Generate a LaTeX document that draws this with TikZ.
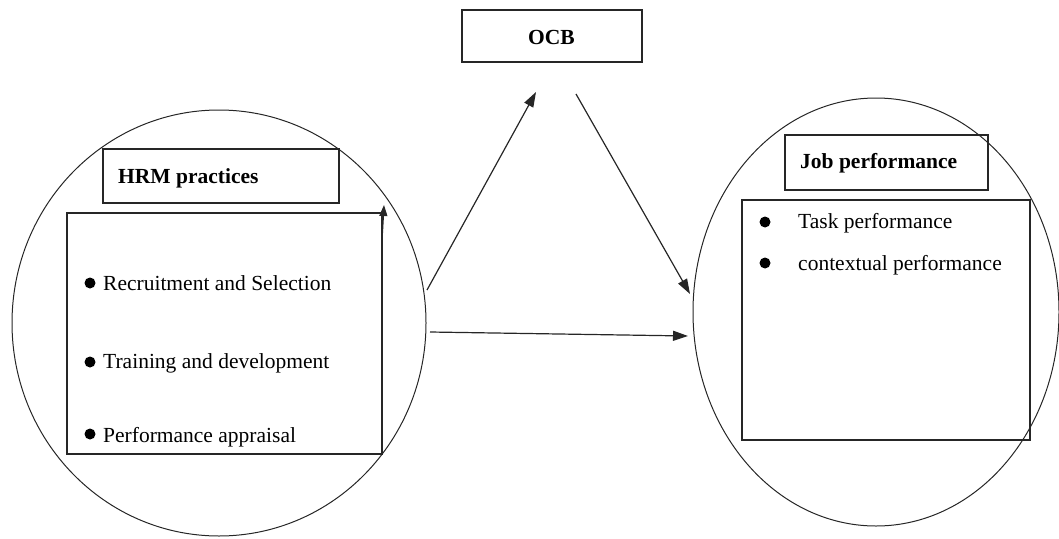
\documentclass[tikz,border=0pt]{standalone}
\usepackage{fontspec}
\setmainfont{Liberation Serif}
\usetikzlibrary{arrows.meta,shapes.geometric}
\begin{document}
\begin{tikzpicture}[x=1pt,y=-1pt,
  oval/.style={draw=black!85, ellipse, line width=1pt, inner sep=0pt},
  box/.style={draw=black!85, rectangle, line width=1.2pt, inner sep=0pt},
  dot/.style={circle, fill=black, inner sep=0pt, minimum size=11pt},
  txt/.style={anchor=base west, inner sep=0pt, font=\fontsize{21.5}{26}\selectfont},
  ttl/.style={anchor=base west, inner sep=0pt, font=\fontsize{21.5}{26}\selectfont\bfseries},
  arr/.style={draw=black!85, line width=1.2pt, -{Triangle[length=15pt,width=10pt]}}]
\useasboundingbox (0,0) rectangle (1059,538);
% ellipses
\node[oval, minimum width=414pt, minimum height=426pt] (L) at (219,323) {};
\node[oval, minimum width=366pt, minimum height=428pt] (R) at (876,312) {};
% boxes
\node[box, minimum width=236pt, minimum height=54pt] (hrm) at (221,176) {};
\node[box, minimum width=315pt, minimum height=241pt] (hrmlist) at (224.5,333.5) {};
\node[box, minimum width=180pt, minimum height=52pt] (ocb) at (552,36) {};
\node[box, minimum width=203pt, minimum height=55pt] (job) at (886.5,162.5) {};
\node[box, minimum width=288pt, minimum height=240pt] (joblist) at (886,320) {};
% titles
\node[ttl] (hrmt) at (118,183) {HRM practices};
\node[ttl] (ocbt) at (528,44) {OCB};
\node[ttl] (jobt) at (800,168) {Job performance};
% left list
\node[dot] (d1) at (90,283) {};
\node[txt] (t1) at (103,290) {Recruitment and Selection};
\node[dot] (d2) at (90,362) {};
\node[txt] (t2) at (103,368) {Training and development};
\node[dot] (d3) at (90,434) {};
\node[txt] (t3) at (103,442) {Performance appraisal};
% right list
\node[dot] (d4) at (765,222) {};
\node[txt] (t4) at (798,228) {Task performance};
\node[dot] (d5) at (765,263) {};
\node[txt] (t5) at (798,270) {contextual performance};
% connector end points
\coordinate (a1s) at (427,290);
\coordinate (a1e) at (536,92);
\coordinate (a2s) at (576,94);
\coordinate (a2e) at (690,294);
\coordinate (a3s) at (430,332);
\coordinate (a3e) at (688,336);
\coordinate (a4s) at (382,240);
\coordinate (a4e) at (384,205);
\draw[arr] (a1s) -- (a1e);
\draw[arr] (a2s) -- (a2e);
\draw[arr] (a3s) -- (a3e);
\draw[arr, -{Triangle[length=11pt,width=8pt]}] (a4s) -- (a4e);
\end{tikzpicture}
\end{document}
